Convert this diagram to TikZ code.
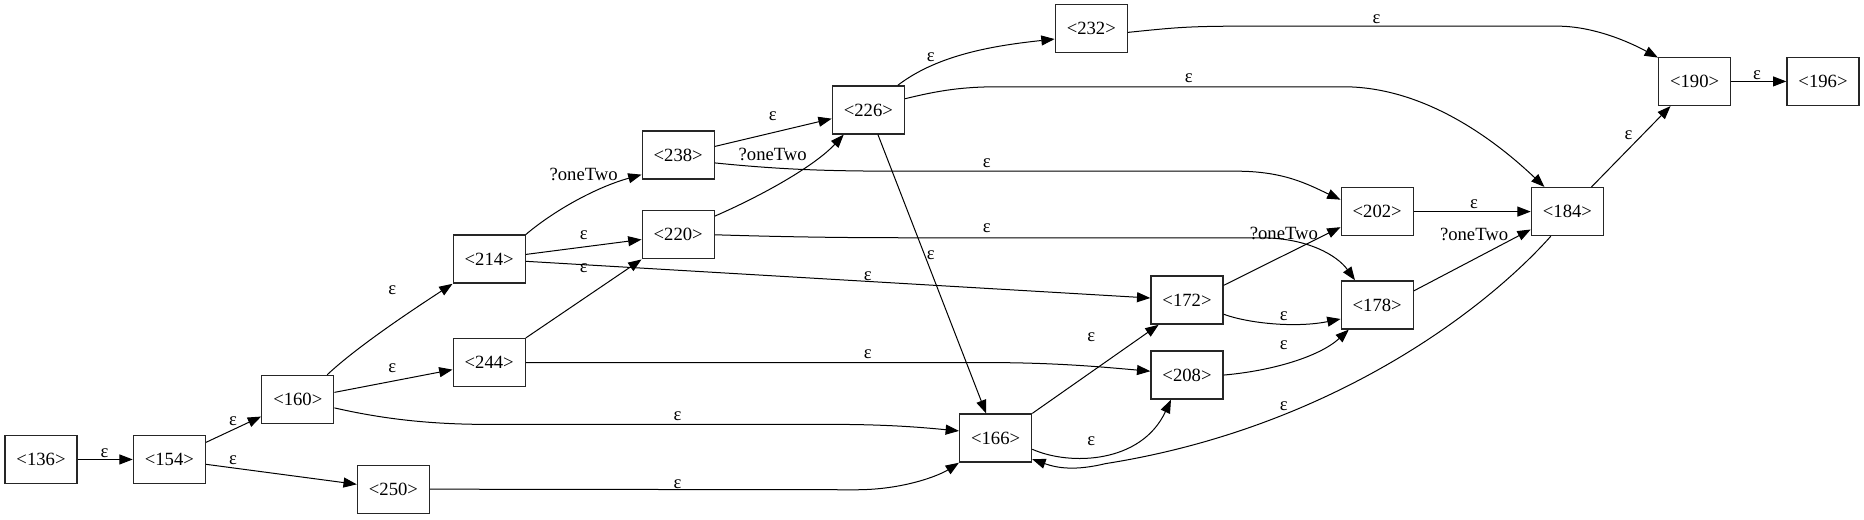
\documentclass[tikz,border=0pt]{standalone}
\usepackage{fontspec}
\setmainfont{Liberation Serif}
\usetikzlibrary{arrows.meta}
\begin{document}
\begin{tikzpicture}[x=0.8916pt,y=-0.8916pt,
  st/.style={draw=black!85,line width=1pt,minimum width=54pt,minimum height=36pt,inner sep=0pt,font=\fontsize{14}{16}\selectfont},
  lbl/.style={inner sep=0pt,font=\fontsize{14}{16}\selectfont},
  ed/.style={line width=0.75pt,-{Triangle[length=10pt,width=7.5pt]}}]
\useasboundingbox (0,0) rectangle (1568,437);
% nodes
\node[st] (n136) at (34.5,386.5) {<136>};
\node[st] (n154) at (142.5,386.5) {<154>};
\node[st] (n160) at (250.5,336) {<160>};
\node[st] (n250) at (331,411.5) {<250>};
\node[st] (n214) at (411.5,218) {<214>};
\node[st] (n244) at (411.5,305) {<244>};
\node[st] (n238) at (570.5,130.5) {<238>};
\node[st] (n220) at (570.5,197.5) {<220>};
\node[st] (n226) at (730.5,92.5) {<226>};
\node[st] (n232) at (918,24) {<232>};
\node[st] (n166) at (837.5,368.5) {<166>};
\node[st] (n172) at (998.5,252.5) {<172>};
\node[st] (n208) at (998.5,315.5) {<208>};
\node[st] (n202) at (1158.5,178) {<202>};
\node[st] (n178) at (1158.5,256.5) {<178>};
\node[st] (n184) at (1318.5,178) {<184>};
\node[st] (n190) at (1425.5,68.5) {<190>};
\node[st] (n196) at (1533.5,68.5) {<196>};
% edges
\draw[ed] (n136) -- (n154);
\draw[ed] (n154) -- (n160);
\draw[ed] (n154) -- (n250);
\draw[ed] (n160.40) .. controls (300,292) and (345,262) .. (n214.south west);
\draw[ed] (n160) -- (n244);
\draw[ed] (n160.-13) .. controls (320,352) and (360,357) .. (410,357) -- (700,357) .. controls (750,357) and (780,360) .. (n166.169);
\draw[ed] (n250.east) -- (720,412) .. controls (760,412) and (790,400) .. (n166.south west);
\draw[ed] (n214.north east) .. controls (465,178) and (500,158) .. (n238.208);
\draw[ed] (n214) -- (n220);
\draw[ed] (n214) -- (n172);
\draw[ed] (n244.north east) -- (n220.south west);
\draw[ed] (n244.east) -- (830,305) .. controls (890,305) and (930,309) .. (n208.174);
\draw[ed] (n238) -- (n226);
\draw[ed] (n238.-12) .. controls (660,143) and (700,144) .. (760,144) -- (1040,144) .. controls (1080,144) and (1100,155) .. (n202.162);
\draw[ed] (n220.27) .. controls (640,165) and (685,140) .. (n226.-135);
\draw[ed] (n220.east) .. controls (650,199) and (700,200) .. (760,200) -- (1060,200) .. controls (1100,200) and (1125,215) .. (n178.132);
\draw[ed] (n226.40) .. controls (790,45) and (840,38) .. (n232.-164);
\draw[ed] (n226.17) .. controls (790,76) and (810,73) .. (840,73) -- (1130,73) .. controls (1200,73) and (1260,120) .. (n184.133);
\draw[ed] (n226) -- (n166);
\draw[ed] (n232.-6) .. controls (990,23) and (1000,22) .. (1050,22) -- (1310,22) .. controls (1340,22) and (1370,35) .. (n190.147);
\draw[ed] (n166.north east) -- (n172.-139);
\draw[ed] (n166.-17) .. controls (900,392) and (960,390) .. (n208.-123);
\draw[ed] (n184.-124) .. controls (1250,260) and (1120,360) .. (930,390) .. controls (905,396) and (890,394) .. (n166.-30);
\draw[ed] (n172.22) -- (n202.-157);
\draw[ed] (n172.-21) .. controls (1050,272) and (1090,276) .. (n178.-159);
\draw[ed] (n208.0) .. controls (1070,312) and (1110,300) .. (n178.-139);
\draw[ed] (n202) -- (n184);
\draw[ed] (n178.21) -- (n184.-154);
\draw[ed] (n184) -- (n190);
\draw[ed] (n190) -- (n196);
% labels
\node[lbl] (l1) at (88,381) {ε};
\node[lbl] (l2) at (196,354) {ε};
\node[lbl] (l3) at (196,387) {ε};
\node[lbl] (l4) at (330,244) {ε};
\node[lbl] (l5) at (330,310) {ε};
\node[lbl] (l6) at (570,350) {ε};
\node[lbl] (l7) at (570,407) {ε};
\node[lbl] (l8) at (491,147) {?oneTwo};
\node[lbl] (l9) at (491,198) {ε};
\node[lbl] (l10) at (730,232) {ε};
\node[lbl] (l11) at (491,226) {ε};
\node[lbl] (l12) at (730,298) {ε};
\node[lbl] (l13) at (650,98) {ε};
\node[lbl] (l14) at (830,137) {ε};
\node[lbl] (l15) at (650,130) {?oneTwo};
\node[lbl] (l16) at (830,192) {ε};
\node[lbl] (l17) at (783,48) {ε};
\node[lbl] (l18) at (1000,66) {ε};
\node[lbl] (l19) at (783,215) {ε};
\node[lbl] (l20) at (1158,16) {ε};
\node[lbl] (l21) at (918,284) {ε};
\node[lbl] (l22) at (918,371) {ε};
\node[lbl] (l23) at (1080,342) {ε};
\node[lbl] (l24) at (1080,196) {?oneTwo};
\node[lbl] (l25) at (1080,266) {ε};
\node[lbl] (l26) at (1080,290) {ε};
\node[lbl] (l27) at (1240,172) {ε};
\node[lbl] (l28) at (1240,197) {?oneTwo};
\node[lbl] (l29) at (1370,114) {ε};
\node[lbl] (l30) at (1478,63) {ε};
\end{tikzpicture}
\end{document}
